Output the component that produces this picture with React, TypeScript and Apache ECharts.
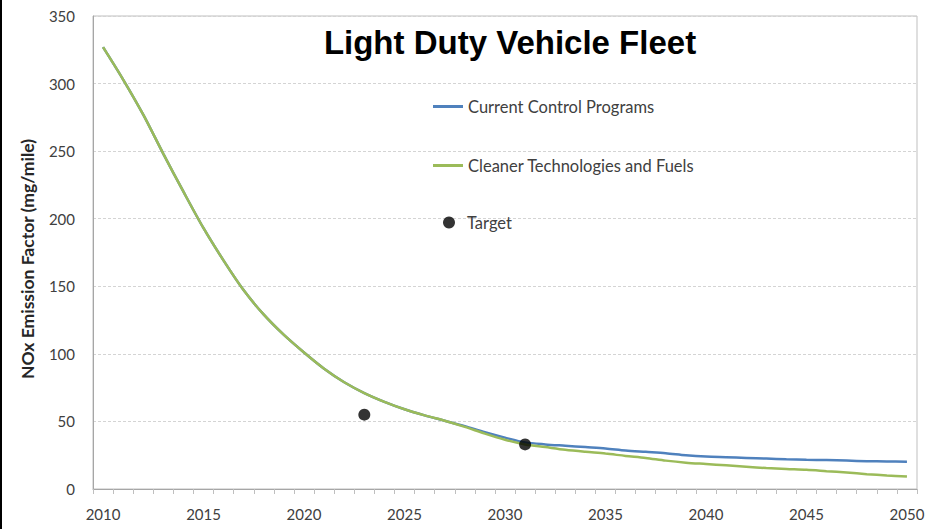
import React, { useEffect, useRef } from "react";
import * as echarts from "echarts";

const years = [
  "2010", "2011", "2012", "2013", "2014", "2015", "2016", "2017", "2018", "2019",
  "2020", "2021", "2022", "2023", "2024", "2025", "2026", "2027", "2028", "2029",
  "2030", "2031", "2032", "2033", "2034", "2035", "2036", "2037", "2038", "2039",
  "2040", "2041", "2042", "2043", "2044", "2045", "2046", "2047", "2048", "2049",
  "2050",
];

const currentControl = [
  327, 303, 277, 248, 220, 193, 169, 147, 129, 114,
  101, 89, 79, 71, 64.5, 59, 54.5, 50.5, 46.5, 42,
  38, 34.5, 33, 32, 31, 30, 28.5, 27.5, 26.5, 25,
  24, 23.5, 23, 22.5, 22, 21.6, 21.4, 21, 20.6, 20.4,
  20.2,
];

const cleanerTech = [
  327, 303, 277, 248, 220, 193, 169, 147, 129, 114,
  101, 89, 79, 71, 64.5, 59, 54.5, 50.5, 46, 41,
  36.5, 33, 31, 29, 27.5, 26.2, 24.5, 23, 21, 19.5,
  18.5, 17.5, 16.5, 15.5, 14.8, 14.2, 13.2, 12.2, 11, 10,
  9.2,
];

const targetYears = ["2023", "2031"];
const targetValues = [55, 33];

const seriesNames = ["Current Control Programs", "Cleaner Technologies and Fuels", "Target"];
const titleText = "Light Duty Vehicle Fleet";
const yAxisTitle = "NOx Emission Factor (mg/mile)";

const BLUE = "#4F81BD";
const GREEN = "#9BBB59";
const TEXT = "#404040";
const FONT = "Lato";

export default function App() {
  const ref = useRef<HTMLDivElement>(null);

  useEffect(() => {
    if (!ref.current) return;
    const chart = echarts.init(ref.current, undefined, { renderer: "svg" });
    const legendText = { color: TEXT, fontFamily: FONT, fontSize: 16.5 };
    chart.setOption({
      animation: false,
      backgroundColor: "#ffffff",
      title: {
        text: titleText,
        left: 505,
        top: 21,
        textAlign: "center",
        textStyle: {
          fontFamily: "Liberation Sans",
          fontWeight: "bold",
          fontSize: 33,
          color: "#000000",
        },
      },
      legend: [
        {
          data: [{ name: seriesNames[0], icon: "rect" }],
          left: 433,
          top: 98,
          padding: 0,
          itemWidth: 30,
          itemHeight: 3,
          textStyle: legendText,
        },
        {
          data: [{ name: seriesNames[1], icon: "rect" }],
          left: 433,
          top: 157,
          padding: 0,
          itemWidth: 30,
          itemHeight: 3,
          textStyle: legendText,
        },
        {
          data: [{ name: seriesNames[2], icon: "circle" }],
          left: 443,
          top: 214,
          padding: 0,
          itemWidth: 12,
          itemHeight: 12,
          textStyle: { ...legendText, padding: [0, 0, 0, 7] },
        },
      ],
      grid: {
        left: 93,
        right: 13,
        top: 16,
        bottom: 40,
        show: true,
        borderColor: "#bfbfbf",
        borderWidth: 1,
        backgroundColor: "transparent",
      },
      xAxis: {
        type: "category",
        data: years,
        boundaryGap: true,
        axisLine: { show: true, lineStyle: { color: "#a6a6a6", width: 1 } },
        axisTick: { show: true, interval: 0, length: 5, lineStyle: { color: "#bfbfbf" } },
        axisLabel: {
          interval: 4,
          margin: 17,
          color: TEXT,
          fontFamily: FONT,
          fontSize: 15,
        },
        splitLine: { show: false },
      },
      yAxis: {
        type: "value",
        min: 0,
        max: 350,
        interval: 50,
        axisLine: { show: true, lineStyle: { color: "#a6a6a6", width: 1 } },
        axisTick: { show: false },
        axisLabel: {
          margin: 18,
          color: TEXT,
          fontFamily: FONT,
          fontSize: 15,
        },
        splitLine: { show: true, lineStyle: { color: "#d4d4d4", type: [3, 2], width: 1 } },
      },
      series: [
        {
          name: seriesNames[0],
          type: "line",
          data: currentControl,
          symbol: "none",
          smooth: 0.3,
          lineStyle: { color: BLUE, width: 2.5 },
          itemStyle: { color: BLUE },
          z: 2,
        },
        {
          name: seriesNames[1],
          type: "line",
          data: cleanerTech,
          symbol: "none",
          smooth: 0.3,
          lineStyle: { color: GREEN, width: 2.5 },
          itemStyle: { color: GREEN },
          z: 3,
        },
        {
          name: seriesNames[2],
          type: "scatter",
          data: targetYears.map((y, i) => [y, targetValues[i]]),
          symbol: "circle",
          symbolSize: 12,
          itemStyle: { color: "#000000" },
          z: 4,
        },
      ],
      graphic: [
        {
          type: "rect",
          shape: { x: 0, y: 0, width: 2, height: 529 },
          style: { fill: "#000000" },
        },
        {
          type: "text",
          x: 27,
          y: 259,
          rotation: Math.PI / 2,
          style: {
            text: yAxisTitle,
            fill: "#262626",
            font: `bold 17.5px ${FONT}`,
            align: "center",
            verticalAlign: "middle",
          },
        },
      ],
    });
    return () => chart.dispose();
  }, []);

  return (
    <div
      ref={ref}
      style={{ position: "fixed", left: 0, top: 0, width: 930, height: 529 }}
    />
  );
}
